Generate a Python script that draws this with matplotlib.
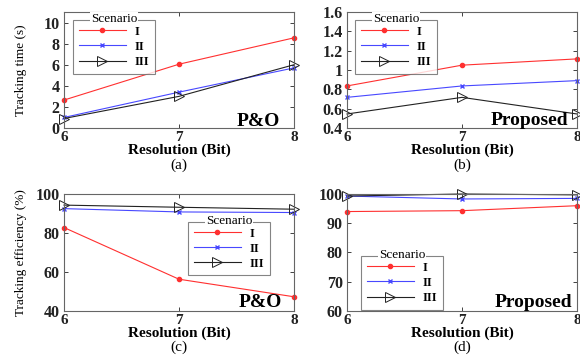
import matplotlib
matplotlib.use("Agg")
import matplotlib.pyplot as plt

plt.rcParams['font.family'] = ['Liberation Serif', 'DejaVu Serif']

resolution = [6, 7, 8]
scenarios = ['I', 'II', 'III']

time_po_I = [2.65, 6.05, 8.55]
time_po_II = [1.0, 3.4, 5.7]
time_po_III = [0.9, 3.0, 6.0]

time_prop_I = [0.835, 1.05, 1.115]
time_prop_II = [0.717, 0.835, 0.89]
time_prop_III = [0.545, 0.717, 0.545]

eff_po_I = [82.8, 56.3, 47.3]
eff_po_II = [92.5, 90.8, 90.5]
eff_po_III = [94.3, 93.2, 92.2]

eff_prop_I = [94.0, 94.3, 96.0]
eff_prop_II = [99.3, 98.3, 98.5]
eff_prop_III = [99.3, 100.0, 99.7]

fig = plt.figure(figsize=(5.8, 3.55), dpi=100)

W, H = 580, 355
def pos(l, r, t, b):
    return [l / W, (H - b) / H, (r - l) / W, (b - t) / H]

axa = fig.add_axes(pos(64, 294, 12, 128))
axb = fig.add_axes(pos(347, 577, 12, 128))
axc = fig.add_axes(pos(64, 294, 194, 311))
axd = fig.add_axes(pos(347, 577, 194, 311))

styles = [
    dict(color='#ff3030', marker='.', markersize=6, lw=0.8),
    dict(color='#4848ff', marker='x', markersize=3.5, mew=1.0, lw=0.8),
    dict(color='#222222', marker='>', markersize=7, mfc='none', mew=0.7, lw=0.8),
]

panels = [
    (axa, [time_po_I, time_po_II, time_po_III], (0, 11), [0, 2, 4, 6, 8, 10], ['0', '2', '4', '6', '8', '10'],
     'Tracking time (s)', 'P&O', 0.939, 0.017, '(a)', 165, (0.039, 0.931)),
    (axb, [time_prop_I, time_prop_II, time_prop_III], (0.4, 1.6), [0.4, 0.6, 0.8, 1.0, 1.2, 1.4, 1.6],
     ['0.4', '0.6', '0.8', '1', '1.2', '1.4', '1.6'], None, 'Proposed', 0.961, 0.03, '(b)', 165, (0.035, 0.931)),
    (axc, [eff_po_I, eff_po_II, eff_po_III], (40, 100), [40, 60, 80, 100], ['40', '60', '80', '100'],
     'Tracking efficiency (%)', 'P&O', 0.95, 0.035, '(c)', 347, (0.539, 0.761)),
    (axd, [eff_prop_I, eff_prop_II, eff_prop_III], (60, 100), [60, 70, 80, 90, 100], ['60', '70', '80', '90', '100'],
     None, 'Proposed', 0.978, 0.035, '(d)', 347, (0.061, 0.47)),
]

legends = []
for ax, series, ylim, yt, ytl, ylabel, tag, tx, ty, letter, ly, anchor in panels:
    for vals, name, st in zip(series, scenarios, styles):
        ax.plot(resolution, vals, label=name, clip_on=False, **st)
    ax.set_xlim(6, 8)
    ax.set_ylim(*ylim)
    ax.set_xticks(resolution)
    ax.set_xticklabels([str(r) for r in resolution], fontsize=11, fontweight='bold')
    ax.set_yticks(yt)
    ax.set_yticklabels(ytl, fontsize=11.5, fontweight='bold')
    ax.tick_params(direction='in', length=3, width=0.6, top=True, right=True, pad=3, colors='#222222')
    ax.tick_params(axis='x', pad=2)
    for sp in ax.spines.values():
        sp.set_color('#666666')
        sp.set_linewidth(0.8)
    ax.set_xlabel('Resolution (Bit)', fontsize=11, fontweight='bold', labelpad=-0.5)
    if ylabel:
        ax.set_ylabel(ylabel, fontsize=9.5)
        ax.yaxis.set_label_coords(-0.16, 0.5)
    ax.text(tx, ty, tag, transform=ax.transAxes, ha='right', va='baseline',
            fontsize=14, fontweight='bold')
    bb = ax.get_position()
    fig.text((bb.x0 + bb.x1) / 2, 1 - ly / H, letter, ha='center', va='center', fontsize=11)
    leg = ax.legend(fontsize=9, frameon=True, fancybox=False,
                    borderpad=0.45, labelspacing=0.25, handlelength=3.8, handletextpad=0.7,
                    borderaxespad=0, loc='upper left', bbox_to_anchor=anchor)
    leg.get_frame().set_edgecolor('#666666')
    leg.get_frame().set_linewidth(0.8)
    for t in leg.get_texts():
        t.set_fontweight('bold')
    legends.append(leg)

fig.canvas.draw()
inv = fig.transFigure.inverted()
for leg in legends:
    ext = leg.get_window_extent()
    (x0, y0), (x1, y1) = inv.transform([[ext.x0, ext.y0], [ext.x1, ext.y1]])
    fig.text((x0 + x1) / 2, y1 + 1.0 / H, 'Scenario', ha='center', va='center', fontsize=9.5,
             bbox=dict(facecolor='white', edgecolor='none', pad=0.5), zorder=10)

fig.savefig('out.png', dpi=100)
